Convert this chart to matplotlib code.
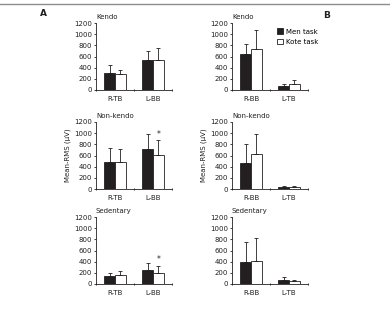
import numpy as np
import matplotlib.pyplot as plt
from matplotlib.patches import Patch

plt.rcParams['font.family'] = ['Liberation Sans Narrow', 'DejaVu Sans']

groups = ['Kendo', 'Non-kendo', 'Sedentary']
cats_a = ['R-TB', 'L-BB']
cats_b = ['R-BB', 'L-TB']

# panel A means / SD (men task, kote task)
men_a = [[310, 545], [490, 720], [140, 245]]
men_a_sd = [[130, 160], [250, 270], [50, 130]]
kote_a = [[280, 545], [490, 610], [155, 190]]
kote_a_sd = [[75, 210], [230, 260], [75, 140]]
star_a = [[False, False], [False, True], [False, True]]

# panel B
men_b = [[640, 65], [470, 35], [390, 70]]
men_b_sd = [[190, 35], [340, 15], [370, 50]]
kote_b = [[740, 110], [620, 35], [420, 45]]
kote_b_sd = [[340, 65], [360, 15], [400, 25]]
star_b = [[False, False], [False, False], [False, False]]

yticks = [0, 200, 400, 600, 800, 1000, 1200]

fs = 5
ink = '#231f20'

fig = plt.figure(figsize=(3.9, 3.12), dpi=100)

# top rule
fig.add_artist(plt.Line2D([0, 1], [1 - 4 / 312, 1 - 4 / 312],
                          color='#8c8c8c', lw=1.0))

lefts = [96 / 390, 232 / 390]
bottoms = [1 - 90 / 312, 1 - 189 / 312, 1 - 284 / 312]
w = 76 / 390
h = 67 / 312
bw = 0.28


def draw_panel(ax, title, cats, men, men_sd, kote, kote_sd, stars, ylabel):
    x = np.arange(len(cats))
    ax.bar(x - bw / 2, men, bw, color=ink, edgecolor=ink, lw=0.6)
    ax.bar(x + bw / 2, kote, bw, color='white', edgecolor=ink, lw=0.6)
    ax.errorbar(x - bw / 2, men, yerr=[np.zeros(len(men)), men_sd],
                fmt='none', ecolor=ink, elinewidth=0.6, capsize=1.5,
                capthick=0.6)
    ax.errorbar(x + bw / 2, kote, yerr=[np.zeros(len(kote)), kote_sd],
                fmt='none', ecolor=ink, elinewidth=0.6, capsize=1.5,
                capthick=0.6)
    for i, s in enumerate(stars):
        if s:
            ax.text(x[i] + bw / 2, kote[i] + kote_sd[i] + 20, '*',
                    ha='center', va='bottom', fontsize=fs + 0.5, color=ink)
    ax.set_xlim(-0.5, 1.5)
    ax.set_ylim(0, 1200)
    ax.set_yticks(yticks)
    ax.set_xticks(x)
    ax.set_xticklabels(cats)
    ax.set_xticks([-0.5, 0.5, 1.5], minor=True)
    ax.tick_params(axis='x', which='major', length=0, labelsize=fs,
                   pad=4, colors=ink)
    ax.tick_params(axis='x', which='minor', length=2, direction='inout',
                   width=0.6, colors=ink)
    ax.tick_params(axis='y', length=1.5, width=0.6, labelsize=fs, pad=1.5,
                   colors=ink)
    for sp in ['top', 'right']:
        ax.spines[sp].set_visible(False)
    for sp in ['left', 'bottom']:
        ax.spines[sp].set_linewidth(0.6)
        ax.spines[sp].set_color(ink)
    ax.text(0.0, 1.04, title, transform=ax.transAxes, ha='left',
            va='bottom', fontsize=fs, color=ink)
    if ylabel:
        ax.set_ylabel('Mean-RMS (μV)', fontsize=fs, labelpad=2, color=ink)


for r in range(3):
    ax_a = fig.add_axes([lefts[0], bottoms[r], w, h])
    draw_panel(ax_a, groups[r], cats_a, men_a[r], men_a_sd[r], kote_a[r],
               kote_a_sd[r], star_a[r], r == 1)
    ax_b = fig.add_axes([lefts[1], bottoms[r], w, h])
    draw_panel(ax_b, groups[r], cats_b, men_b[r], men_b_sd[r], kote_b[r],
               kote_b_sd[r], star_b[r], r == 1)
    if r == 0:
        handles = [Patch(facecolor=ink, edgecolor=ink, lw=0.6),
                   Patch(facecolor='white', edgecolor=ink, lw=0.6)]
        ax_b.legend(handles, ['Men task', 'Kote task'], loc='upper left',
                    bbox_to_anchor=(0.56, 0.96), frameon=False, fontsize=fs,
                    handlelength=0.8, handleheight=0.8, handletextpad=0.4,
                    labelspacing=0.6, borderaxespad=0)

fig.text(43 / 390, 1 - 14 / 312, 'A', fontsize=6.5, fontweight='bold',
         ha='center', va='center', color=ink)
fig.text(327 / 390, 1 - 15 / 312, 'B', fontsize=6.5, fontweight='bold',
         ha='center', va='center', color=ink)

fig.savefig('out.png', dpi=100)
